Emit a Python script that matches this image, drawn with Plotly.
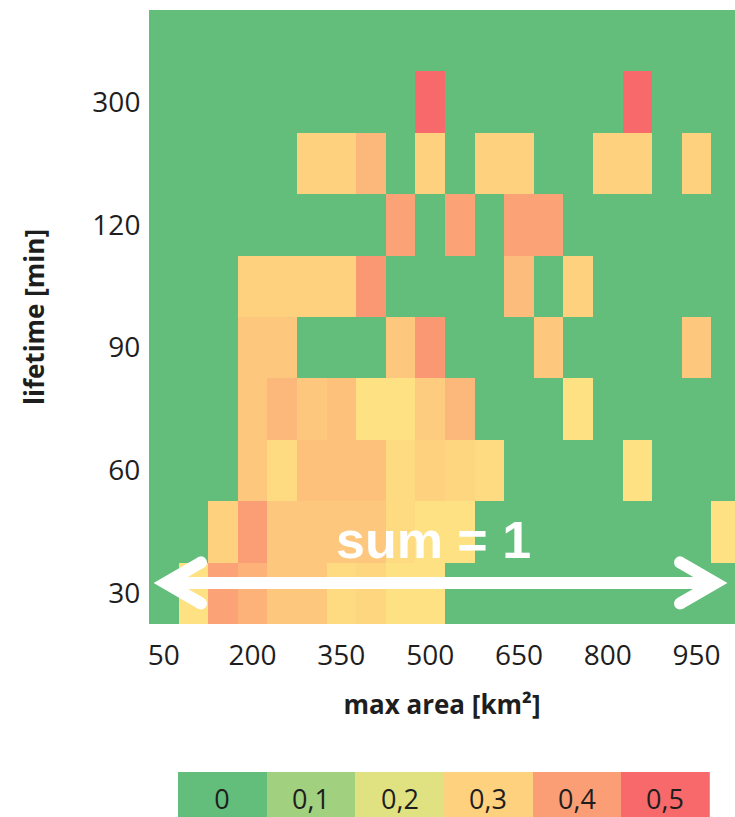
import plotly.graph_objects as go

# max area bins [km²] (column centres)
area_bins = [50, 100, 150, 200, 250, 300, 350, 400, 450, 500,
             550, 600, 650, 700, 750, 800, 850, 900, 950, 1000]
area_ticks = [50, 200, 350, 500, 650, 800, 950]

# lifetime rows (bottom -> top), only every other row is labelled
lifetime_rows = [0, 1, 2, 3, 4, 5, 6, 7, 8, 9]
lifetime_tickvals = [0, 2, 4, 6, 8]
lifetime_ticktext = ["30", "60", "90", "120", "300"]

# relative frequency per row (sum = 1 across a row)
share = [
    [0, .27, .39, .36, .32, .32, .28, .29, .27, .27, 0, 0, 0, 0, 0, 0, 0, 0, 0, 0],
    [0, 0, .30, .40, .32, .32, .32, .32, .28, .27, .27, 0, 0, 0, 0, 0, 0, 0, 0, .27],
    [0, 0, 0, .32, .28, .33, .33, .33, .28, .30, .29, .28, 0, 0, 0, 0, .27, 0, 0, 0],
    [0, 0, 0, .32, .35, .32, .33, .27, .27, .31, .35, 0, 0, 0, .27, 0, 0, 0, 0, 0],
    [0, 0, 0, .32, .32, 0, 0, 0, .32, .41, 0, 0, 0, .32, 0, 0, 0, 0, .32, 0],
    [0, 0, 0, .30, .30, .30, .30, .41, 0, 0, 0, 0, .34, 0, .30, 0, 0, 0, 0, 0],
    [0, 0, 0, 0, 0, 0, 0, 0, .39, 0, .39, 0, .39, .39, 0, 0, 0, 0, 0, 0],
    [0, 0, 0, 0, 0, .30, .30, .35, 0, .30, 0, .30, .30, 0, 0, .30, .30, 0, .30, 0],
    [0, 0, 0, 0, 0, 0, 0, 0, 0, .50, 0, 0, 0, 0, 0, 0, .50, 0, 0, 0],
    [0, 0, 0, 0, 0, 0, 0, 0, 0, 0, 0, 0, 0, 0, 0, 0, 0, 0, 0, 0],
]

# colour key below the chart
key_values = [0, 0.1, 0.2, 0.3, 0.4, 0.5]
key_labels = ["0", "0,1", "0,2", "0,3", "0,4", "0,5"]

scale = [[0, "#63BE7B"], [0.5, "#FFEB84"], [1, "#F8696B"]]
dark = "#1e1e1e"

fig = go.Figure()
fig.add_trace(go.Heatmap(
    x=area_bins, y=lifetime_rows, z=share,
    colorscale=scale, zmin=0, zmax=0.5, showscale=False,
    hoverinfo="skip",
))
fig.add_trace(go.Heatmap(
    x=list(range(len(key_values))), y=[0], z=[key_values],
    text=[key_labels], texttemplate="%{text}",
    textfont=dict(family="Open Sans", size=27, color=dark),
    colorscale=scale, zmin=0, zmax=0.5, showscale=False,
    xaxis="x2", yaxis="y2", hoverinfo="skip",
))

# double-headed "sum = 1" arrow (data units of the main axes)
ay = 0.168
arm = 0.335
white = dict(color="white", width=12)
shapes = [
    dict(type="path", path=f"M 53,{ay} L 982,{ay}", line=white),
    dict(type="path", path=f"M 113,{ay + arm} L 53,{ay} L 113,{ay - arm}", line=white),
    dict(type="path", path=f"M 922,{ay + arm} L 982,{ay} L 922,{ay - arm}", line=white),
]
for cx in (113, 922):
    for cy in (ay + arm, ay - arm):
        shapes.append(dict(type="circle", x0=cx - 10, x1=cx + 10, y0=cy - 0.098, y1=cy + 0.098,
                           fillcolor="white", line=dict(width=0)))
for s in shapes:
    s.update(xref="x", yref="y", layer="above")

fig.update_layout(
    template="none",
    width=735, height=817,
    margin=dict(l=149, r=0, t=10, b=0),
    paper_bgcolor="white", plot_bgcolor="white",
    font=dict(family="Open Sans", color=dark),
    shapes=shapes,
    annotations=[dict(
        x=505, y=0.87, xref="x", yref="y", text="<b>sum = 1</b>", showarrow=False,
        font=dict(family="Liberation Sans", size=52, color="white"),
    )],
    xaxis=dict(
        domain=[0, 1], range=[25, 1015], tickvals=area_ticks,
        showgrid=False, zeroline=False, showline=False,
        ticks="outside", ticklen=6, tickcolor="rgba(0,0,0,0)",
        tickfont=dict(size=28, color=dark),
        title=dict(text="<b>max area [km²]</b>", font=dict(size=26, color=dark), standoff=24),
    ),
    yaxis=dict(
        domain=[0.2392, 1], range=[-0.5, 9.5],
        tickvals=lifetime_tickvals, ticktext=lifetime_ticktext,
        showgrid=False, zeroline=False, showline=False,
        ticks="outside", ticklen=2, tickcolor="rgba(0,0,0,0)",
        tickfont=dict(size=28, color=dark),
        title=dict(text="<b>lifetime [min]</b>", font=dict(size=26, color=dark), standoff=40),
    ),
    xaxis2=dict(domain=[0.0495, 0.957], anchor="y2", range=[-0.5, 5.5], visible=False),
    yaxis2=dict(domain=[0, 0.0558], anchor="x2", range=[-0.3036, 0.5], visible=False),
)

# drop the browser's default page margin so the figure sits at the window corner
fig.write_html(
    "out.html",
    config={"displayModeBar": False},
    post_script="document.body.style.margin='0';document.body.style.overflow='hidden';"
                "document.documentElement.style.overflow='hidden';",
)
